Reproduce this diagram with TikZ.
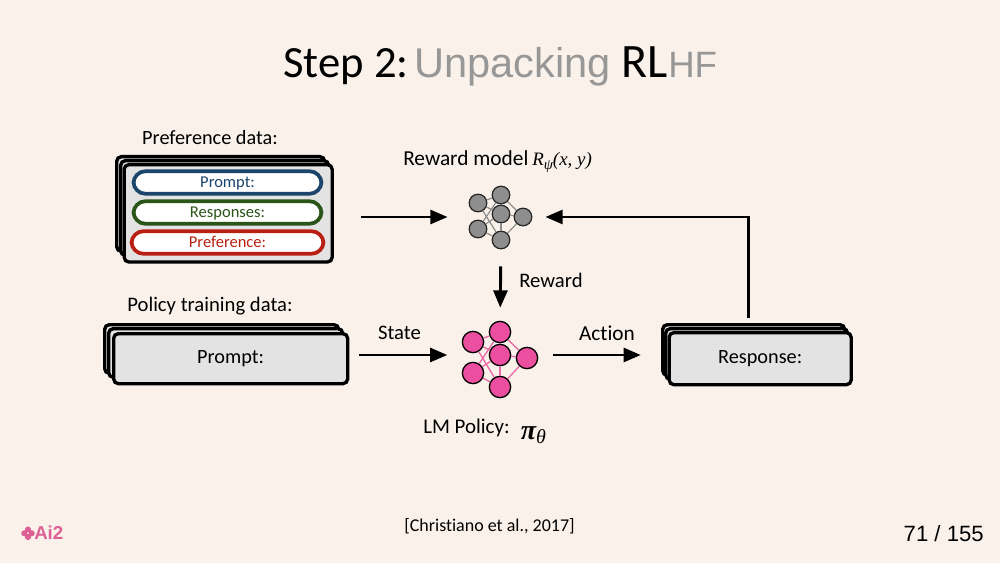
\documentclass[tikz,border=0pt]{standalone}
\usepackage{fontspec}
\setmainfont[Ligatures=NoCommon]{Carlito}
\newfontfamily\helv{Liberation Sans}
\newfontfamily\timesit{Liberation Serif}
\usetikzlibrary{arrows.meta}
\definecolor{paper}{HTML}{FAF2EA}
\definecolor{boxgray}{HTML}{E3E3E3}
\definecolor{titlegray}{HTML}{979797}
\definecolor{pbluec}{HTML}{1B456B}
\definecolor{pgreenc}{HTML}{2A5418}
\definecolor{predc}{HTML}{B91F12}
\definecolor{netgray}{HTML}{8E8E8E}
\definecolor{netpink}{HTML}{EC4F9F}
\definecolor{linkpink}{HTML}{E86BA8}
\definecolor{logopink}{HTML}{DC5F95}
\newcommand{\fsz}[1]{\fontsize{#1}{#1}\selectfont}
\tikzset{
  card/.style={draw=black,line width=2.5pt,fill=boxgray,rounded corners=3.5pt,
    minimum width=#1,inner sep=0pt,anchor=north west,text=black},
  pill/.style={draw=#1,line width=2.8pt,fill=white,rounded corners=9pt,
    text=#1,inner sep=0pt,minimum height=16.9pt,text height=8pt,text depth=1pt,font=\fsz{12.4}},
  label/.style={inner sep=0pt,font=\fsz{15.5},text=black},
  flow/.style={draw=black,line width=2.2pt,-{Triangle[length=13pt,width=10.5pt]}},
  graynode/.style={circle,draw=black!85,line width=0.9pt,fill=netgray,minimum size=13.2pt,inner sep=0pt},
  pinknode/.style={circle,draw=black,line width=1pt,fill=netpink,minimum size=16pt,inner sep=0pt},
  graylink/.style={draw=black!45,line width=0.9pt},
  pinklink/.style={draw=linkpink,line width=1pt},
  petal/.style={circle,fill=logopink,inner sep=0pt,minimum size=4.6pt}
}
\begin{document}
\begin{tikzpicture}[x=0.75pt,y=-0.75pt]
\useasboundingbox[fill=paper] (0,0) rectangle (1000,563);

\node[anchor=base west,inner sep=0pt,font=\fsz{33.5}] (stepT) at (283,78) {Step 2:};
\node[anchor=base west,inner sep=0pt,font=\helv\fsz{31.2},text=titlegray] (unpackT) at (414,78) {Unpacking};
\node[anchor=base west,inner sep=0pt,font=\fsz{36}] (rlT) at (621,78) {RL};
\node[anchor=base west,inner sep=0pt,font=\helv\fsz{27.5},text=titlegray] (hfT) at (668,78) {HF};

\node[label,font=\fsz{15.2}] (prefL) at (210,138) {Preference data:};
\node[card=156pt,minimum height=71pt] (prefA) at (115,155) {};
\node[card=156pt,minimum height=71pt] (prefB) at (119,159) {};
\node[card=156pt,minimum height=73pt] (prefC) at (122.5,163) {};
\node[pill=pbluec,minimum width=141pt] (pillA) at (227.5,182.5) {Prompt:};
\node[pill=pgreenc,minimum width=141pt] (pillB) at (227.5,212.5) {Responses:};
\node[pill=predc,minimum width=144pt] (pillC) at (227.5,242.5) {Preference:};

\node[label] (polL) at (210,306.5) {Policy training data:};
\node[card=175.5pt,minimum height=36.5pt] (promptA) at (103,323) {};
\node[card=175.5pt,minimum height=36.5pt] (promptB) at (107,327) {};
\node[card=175.5pt,minimum height=37.5pt,font=\fsz{15.2}] (promptC) at (112,332) {Prompt:};

\node[card=136.5pt,minimum height=38pt] (respA) at (661,323) {};
\node[card=136.5pt,minimum height=38pt] (respB) at (664,327) {};
\node[card=136.5pt,minimum height=39pt,font=\fsz{15.2}] (respC) at (667.5,331) {Response:};

\node[graynode] (r1) at (478,203) {};
\node[graynode] (r2) at (501,195) {};
\node[graynode] (r3) at (501,214) {};
\node[graynode] (r4) at (523,217) {};
\node[graynode] (r5) at (478,229) {};
\node[graynode] (r6) at (501,240) {};
\foreach \a/\b in {r1/r2,r1/r3,r1/r6,r5/r2,r5/r3,r5/r6,r2/r4,r3/r4,r3/r6,r6/r4}
  \draw[graylink] (\a) -- (\b);

\node[pinknode] (p1) at (473,342) {};
\node[pinknode] (p2) at (500,332) {};
\node[pinknode] (p3) at (500,355) {};
\node[pinknode] (p4) at (527,358) {};
\node[pinknode] (p5) at (473,373) {};
\node[pinknode] (p6) at (500,387) {};
\foreach \a/\b in {p1/p2,p1/p3,p1/p6,p5/p2,p5/p3,p5/p6,p2/p4,p3/p4,p3/p6,p6/p4}
  \draw[pinklink] (\a) -- (\b);

\node[label,anchor=base west,font=\fsz{16}] (rewardL) at (403,166) {Reward model};
\node[inner sep=0pt,anchor=base west,font=\timesit\itshape\fsz{14.2}] (rewardM) at (532,165.5) {R\raisebox{-3pt}{\fsz{11}ψ}(x, y)};
\node[label] (rewardT) at (551,280) {Reward};
\node[label] (stateT) at (399.5,333) {State};
\node[label,font=\fsz{16}] (actionT) at (607,333) {Action};
\node[label,anchor=base west,font=\fsz{15.7}] (policyL) at (423,433) {LM Policy:};
\node[inner sep=0pt,anchor=base west,font=\timesit\bfseries\itshape\fsz{21}] (piL) at (520.5,439) {π\raisebox{-3pt}{\mdseries\fsz{15}θ}};

% arrows
\draw[flow,shorten <=20pt,shorten >=49.5pt] (prefC.east |- r4) -- (r4);
\draw[flow,shorten <=7.5pt,shorten >=31pt] (promptC.east |- p3) -- (p3);
\draw[flow,shorten <=31pt,shorten >=20pt] (p3) -- (p3 -| respC.west);
\draw[flow,shorten <=12.75pt,shorten >=9.75pt] (r6) -- (p2);
\draw[flow,shorten <=9.75pt,shorten >=9.75pt] ([xshift=-8.6pt]respC.north) |- (r4);

\node[inner sep=0pt,font=\fsz{13.5}] (citeT) at (489.5,526.5) {[Christiano et al., 2017]};
\node[anchor=base east,inner sep=0pt,font=\helv\fsz{16.6}] (pageT) at (984,541) {71 / 155};

% logo
\node[petal] (f1) at (28,529.5) {};
\node[petal] (f2) at (28,537) {};
\node[petal] (f3) at (24.3,533.3) {};
\node[petal] (f4) at (31.7,533.3) {};
\node[anchor=base west,inner sep=0pt,font=\helv\bfseries\fsz{14},text=logopink] (logoT) at (34,539) {Ai2};
\end{tikzpicture}
\end{document}
